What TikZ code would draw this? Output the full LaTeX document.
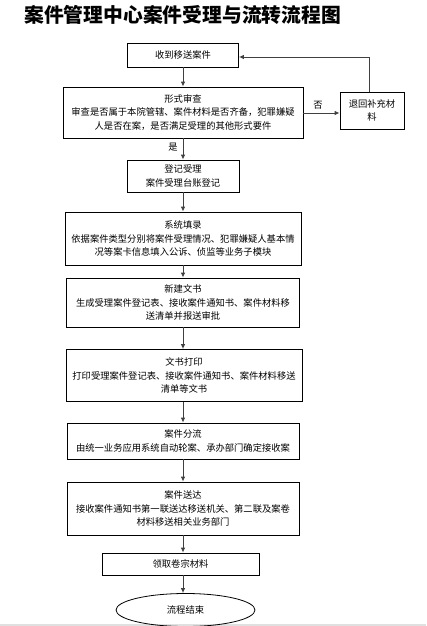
\documentclass[tikz,border=0pt]{standalone}
\usepackage{fontspec}
\setmainfont{Noto Sans CJK SC}
\usetikzlibrary{arrows.meta,shapes.geometric}
\newcommand\bodyfs{\fontsize{9.3}{13.5}\selectfont}
\tikzset{
  box/.style={draw, line width=0.8pt, inner sep=1pt, align=center, font=\bodyfs},
  conn/.style={line width=0.9pt, draw=black!75, -{Latex[length=5pt,width=4.5pt]}},
  lbl/.style={inner sep=0pt, font=\bodyfs},
}
\begin{document}
\begin{tikzpicture}[x=1pt,y=-1pt]
\useasboundingbox (0,0) rectangle (426,626);
\fill[black!12] (0,623.5) rectangle (426,626);
% title
\node[anchor=west, inner sep=0pt, font=\fontsize{19.8}{24}\selectfont\bfseries] (title) at (24,15) {案件管理中心案件受理与流转流程图};
% boxes
\node[box, minimum width=111pt, minimum height=24pt] (b1) at (183,55) {收到移送案件};
\node[box, minimum width=240pt, minimum height=51pt] (b2) at (183,112.5) {形式审查\\审查是否属于本院管辖、案件材料是否齐备，犯罪嫌疑\\人是否在案，是否满足受理的其他形式要件};
\node[box, minimum width=64pt, minimum height=37pt] (rb) at (372,110.5) {退回补充材\\料};
\node[box, minimum width=112pt, minimum height=32pt] (b3) at (183,176) {登记受理\\案件受理台账登记};
\node[box, minimum width=236pt, minimum height=53pt] (b4) at (183,238.5) {系统填录\\依据案件类型分别将案件受理情况、犯罪嫌疑人基本情\\况等案卡信息填入公诉、侦监等业务子模块};
\node[box, minimum width=233pt, minimum height=49pt] (b5) at (183,302.5) {新建文书\\生成受理案件登记表、接收案件通知书、案件材料移\\送清单并报送审批};
\node[box, minimum width=236pt, minimum height=52pt] (b6) at (184,375.5) {文书打印\\打印受理案件登记表、接收案件通知书、案件材料移送\\清单等文书};
\node[box, minimum width=232pt, minimum height=36pt] (b7) at (183,441) {案件分流\\由统一业务应用系统自动轮案、承办部门确定接收案};
\node[box, minimum width=232pt, minimum height=53pt] (b8) at (183,508.5) {案件送达\\接收案件通知书第一联送达移送机关、第二联及案卷\\材料移送相关业务部门};
\node[box, minimum width=157pt, minimum height=22pt] (b9) at (180.5,564) {领取卷宗材料};
\node[box, ellipse, inner sep=0pt, minimum width=139pt, minimum height=33pt] (end) at (185.5,610) {流程结束};
% labels
\node[lbl] (no) at (318,105) {否};
\node[lbl] (yes) at (173,147.5) {是};
% connectors
\draw[conn] (b1.south) -- (b1.south |- b2.north);
\draw[conn] (b2.south) -- (b2.south |- b3.north);
\draw[conn] (b3.south) -- (b3.south |- b4.north);
\draw[conn] (b4.south) -- (b4.south |- b5.north);
\draw[conn] (b5.south) -- (b5.south |- b6.north);
\draw[conn] (b6.south -| b5.south) -- (b7.north);
\draw[conn] (b7.south) -- (b7.south |- b8.north);
\draw[conn] (b8.south) -- (b8.south |- b9.north);
\draw[conn] (b9.south -| b8.south) -- (b8.south |- end.north);
\draw[conn] (b2.east |- 0,113) -- (rb.west |- 0,113);
\coordinate (rt) at (369,57);
\draw[conn] (rt |- rb.north) -- (rt) -- (rt -| b1.east);
\end{tikzpicture}
\end{document}
